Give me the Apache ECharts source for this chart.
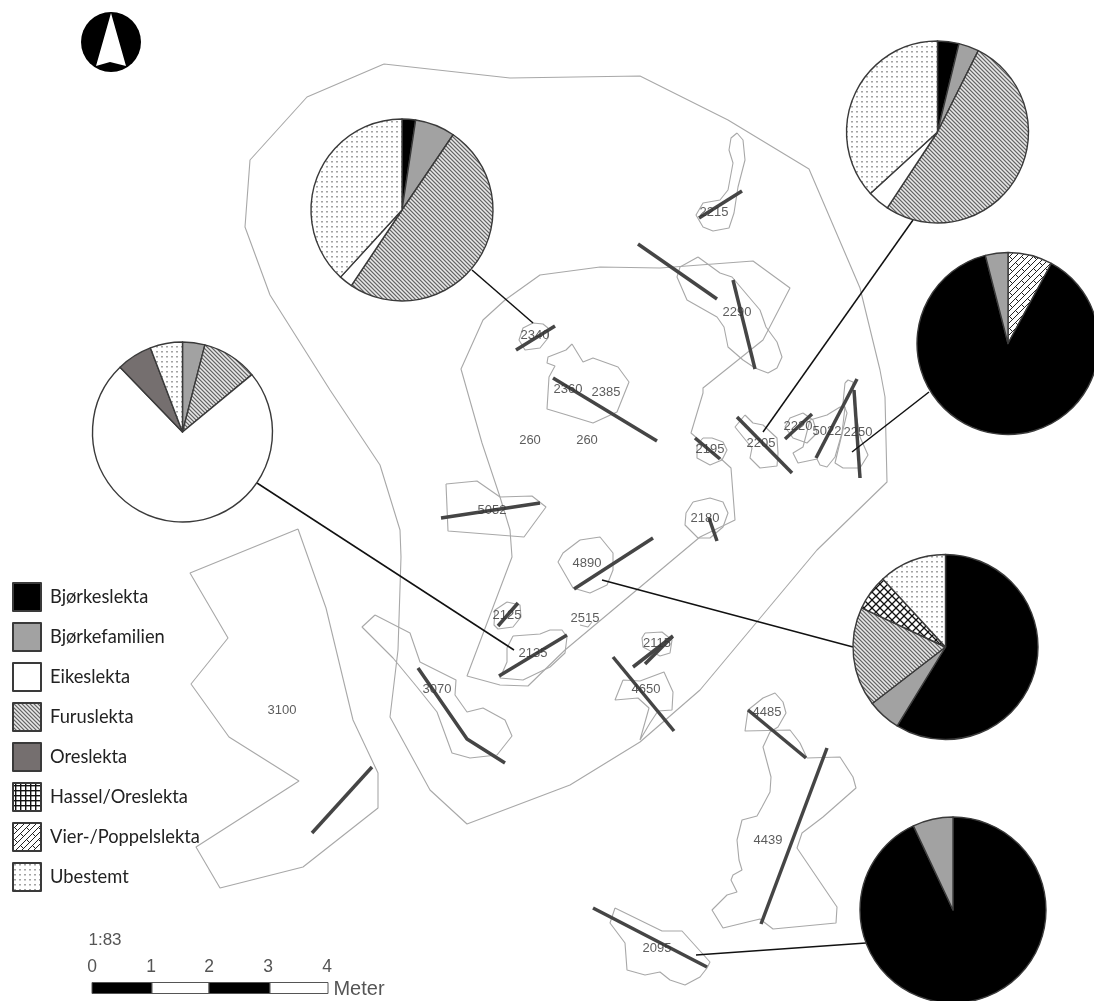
<!DOCTYPE html>
<html><head><meta charset="utf-8">
<style>html,body{margin:0;padding:0;background:#fff}#c{width:1094px;height:1001px}</style>
<script src="https://cdn.jsdelivr.net/npm/echarts@6/dist/echarts.min.js"></script>
</head><body><div id="c"></div>
<script>
const categories=['Bjørkeslekta','Bjørkefamilien','Eikeslekta','Furuslekta','Oreslekta','Hassel/Oreslekta','Vier-/Poppelslekta','Ubestemt'];
// pie slices, clockwise from 12 o'clock: [category index, percent]
const pie2340=[[0,2.4],[1,7.1],[3,49.9],[2,2.4],[7,38.2]];
const pie2205=[[0,3.8],[1,3.6],[3,51.9],[2,3.9],[7,36.8]];
const pie2250=[[6,7.9],[0,88.1],[1,4.0]];
const pie2135=[[1,4.0],[3,10.0],[2,73.8],[4,6.4],[7,5.8]];
const pie4890=[[0,58.75],[1,5.8],[3,17.4],[5,6.2],[7,11.85]];
const pie2095=[[0,93],[1,7]];
// map geometry (x, y in image units)
const outerBoundary=[[384,64],[510,78],[640,76],[728,120],[809,169],[860,288],[880,370],[885,397],[887,482],[817,550],[700,690],[640,742],[570,785],[467,824],[430,790],[390,717],[398,650],[401,557],[400,530],[380,465],[330,390],[270,295],[245,227],[250,160],[307,97],[384,64]];
const innerBoundary=[[505,300],[483,320],[461,369],[482,443],[500,497],[510,530],[512,557],[467,676],[500,685],[528,686],[565,650],[700,537],[735,520],[731,468],[720,458],[691,433],[703,393],[703,388],[763,340],[790,288],[753,261],[660,268],[600,267],[540,275],[505,300]];
const area2215=[[737,133],[731,138],[729,150],[733,163],[728,190],[720,200],[703,203],[696,215],[703,227],[713,231],[729,228],[734,213],[738,187],[745,160],[743,140],[737,133]];
const area2290=[[698,257],[680,267],[677,277],[687,300],[717,317],[724,327],[728,347],[743,360],[755,368],[768,373],[777,368],[782,357],[777,342],[766,327],[760,310],[743,290],[732,277],[720,273],[698,257]];
const area2340=[[533,323],[523,328],[519,340],[525,350],[540,348],[548,338],[548,328],[543,324],[533,323]];
const area2360=[[572,344],[566,350],[548,357],[547,363],[555,366],[549,377],[547,409],[567,415],[593,423],[617,412],[629,382],[618,367],[593,358],[583,362],[572,344]];
const area5052=[[446,484],[477,481],[500,497],[532,496],[546,507],[524,537],[448,531],[446,484]];
const area4890=[[580,540],[563,553],[558,562],[573,588],[590,593],[607,585],[613,570],[613,553],[600,537],[580,540]];
const area2125=[[507,602],[495,610],[494,625],[498,629],[513,627],[521,617],[520,605],[507,602]];
const area2135=[[513,636],[507,648],[507,662],[500,678],[523,680],[550,667],[565,653],[567,637],[562,630],[550,630],[540,634],[513,636]];
const area2515=[[580,625],[588,627],[592,622]];
const area2115=[[645,633],[642,638],[643,647],[660,656],[670,653],[672,640],[662,632],[645,633]];
const area4650=[[623,680],[615,700],[638,698],[649,708],[640,740],[650,723],[658,711],[672,710],[673,692],[664,672],[640,681],[623,680]];
const area3070=[[375,615],[362,627],[393,658],[417,687],[437,712],[452,753],[470,758],[497,755],[512,736],[505,720],[483,708],[467,712],[455,695],[456,680],[420,662],[410,633],[375,615]];
const area2195=[[703,438],[697,445],[697,458],[710,465],[722,460],[727,450],[723,442],[712,438],[703,438]];
const area2180=[[693,502],[686,513],[685,525],[698,538],[710,538],[723,527],[728,513],[723,502],[710,498],[693,502]];
const area2205=[[745,415],[735,427],[752,448],[750,458],[760,468],[777,466],[778,453],[777,438],[763,425],[753,423],[745,415]];
const area2220=[[803,413],[790,418],[785,427],[793,438],[807,443],[817,433],[813,420],[803,413]];
const area5022=[[840,407],[827,415],[810,420],[803,447],[793,453],[798,463],[817,459],[820,465],[827,467],[835,457],[842,433],[845,407],[840,407]];
const area2250=[[845,383],[843,403],[847,413],[835,463],[843,468],[860,468],[868,455],[860,437],[855,407],[853,382],[848,380],[845,383]];
const area4485=[[770,732],[778,727],[786,713],[783,702],[775,693],[763,698],[748,710],[745,731],[790,730],[800,743],[807,758]];
const area4439=[[770,732],[763,747],[771,777],[770,792],[762,807],[757,816],[742,820],[737,840],[739,860],[742,870],[733,875],[731,880],[737,892],[727,895],[712,910],[723,928],[760,919],[773,929],[836,923],[837,907],[797,848],[802,833],[823,817],[856,788],[853,777],[840,757],[807,758]];
const area2095=[[615,908],[610,923],[625,943],[627,970],[645,975],[660,972],[670,980],[685,985],[700,977],[707,968],[710,962],[682,931],[662,931],[615,908]];
const area3100=[[298,529],[190,573],[228,638],[191,684],[229,737],[299,781],[196,847],[220,888],[303,867],[378,808],[378,773],[353,720],[326,608],[298,529]];
const outlines=[outerBoundary,innerBoundary,area2215,area2290,area2340,area2360,area5052,area4890,area2125,area2135,area2515,area2115,area4650,area3070,area2195,area2180,area2205,area2220,area5022,area2250,area4485,area4439,area2095,area3100];
const transects=[
 [[742,191],[699,218]],[[638,244],[717,299]],[[733,280],[755,369]],[[555,326],[516,350]],
 [[553,378],[657,441]],[[441,518],[540,503]],[[653,538],[574,589]],[[518,603],[498,626]],
 [[567,635],[499,676]],[[673,636],[633,667]],[[672,637],[645,664]],[[613,657],[674,731]],
 [[418,668],[467,739],[505,763]],[[372,767],[312,833]],[[748,710],[806,758]],[[827,748],[761,924]],
 [[593,908],[707,967]],[[695,438],[720,459]],[[709,518],[717,541]],[[737,417],[792,473]],
 [[812,414],[785,439]],[[857,379],[816,458]],[[854,390],[860,478]]];
const leaders=[
 [[472,270],[533,323]],[[913,220],[763,432]],[[929,392],[852,452]],
 [[257,483],[514,650]],[[853,647],[602,580]],[[866,943],[696,955]]];
const areaLabels=[
 ['2215',714,212],['2290',737,312],['2340',535,335],['2360',568,389],['2385',606,392],['260',530,440],['260',587,440],
 ['5052',492,510],['2195',710,449],['2205',761,443],['2220',798,426],['5022',827,431],['2250',858,432],['2180',705,518],
 ['4890',587,563],['2125',507,615],['2515',585,618],['2135',533,653],['2115',657,643],['4650',646,689],['3070',437,689],
 ['3100',282,710],['4485',767,712],['4439',768,840],['2095',657,948]];
const scaleTicks=['0','1','2','3','4'];

function tile(n,draw){const c=document.createElement('canvas');c.width=c.height=n;const g=c.getContext('2d');g.fillStyle='#fff';g.fillRect(0,0,n,n);draw(g,n);return {image:c,repeat:'repeat'};}
const patFuru=tile(4,(g,n)=>{for(let i=0;i<n;i++)for(let j=0;j<n;j++){const d=(i-j+n)%n;g.fillStyle=d===0?'#666':d===1?'#b0b0b0':d===3?'#c0c0c0':'#e8e8e8';g.fillRect(i,j,1,1);}});
const patUbe=tile(5,(g)=>{g.fillStyle='#a4a4a4';g.fillRect(1,1,2,1);g.fillStyle='#cfcfcf';g.fillRect(1,2,2,1);});
const patHasselGrid=tile(5,(g,n)=>{g.fillStyle='#111';g.fillRect(0,2,n,1.4);g.fillRect(2,0,1.4,n);});
const patHasselDiag=tile(8,(g,n)=>{g.strokeStyle='#111';g.lineWidth=1.3;for(const o of [-8,0,8]){g.beginPath();g.moveTo(o,0);g.lineTo(o+8,8);g.moveTo(o,8);g.lineTo(o+8,0);g.stroke();}});
const patVier=tile(12,(g)=>{g.strokeStyle='#222';g.lineWidth=1;[[0,6,6,0],[0,12,12,0],[6,12,12,6],[1,4,4,7],[7,10,10,13],[7,-2,10,1]].forEach(s=>{g.beginPath();g.moveTo(s[0],s[1]);g.lineTo(s[2],s[3]);g.stroke();});});
const pieColors=['#000','#a2a2a2','#fff',patFuru,'#756f6f',patHasselDiag,patVier,patUbe];
const legendColors=['#000','#a2a2a2','#fff',patFuru,'#756f6f',patHasselGrid,patVier,patUbe];

const ink='#3a3a3a';
const series=[];
// legend keys come from this empty pie
series.push({type:'pie',silent:true,radius:0,center:[-50,-50],label:{show:false},labelLine:{show:false},
 itemStyle:{borderColor:ink,borderWidth:1},
 data:categories.map((n,i)=>({name:n,value:1,itemStyle:{color:legendColors[i]}}))});
outlines.forEach(o=>series.push({type:'line',data:o,symbol:'none',silent:true,z:2,lineStyle:{color:'#a8a8a8',width:1.1}}));
transects.forEach(o=>series.push({type:'line',data:o,symbol:'none',silent:true,z:3,lineStyle:{color:'#454545',width:3.5,cap:'butt'}}));
leaders.forEach(o=>series.push({type:'line',data:o,symbol:'none',silent:true,z:5,lineStyle:{color:'#111',width:1.5}}));
series.push({type:'scatter',symbolSize:0,silent:true,z:6,data:areaLabels.map(l=>({value:[l[1],l[2]],name:l[0]})),
 label:{show:true,position:'inside',formatter:p=>p.name,fontFamily:'Liberation Sans',fontSize:13,color:'#333'}});
function addPie(vals,cx,cy,r){
 series.push({type:'pie',silent:true,animation:false,z:8,center:[cx,cy],radius:[0,r],startAngle:90,clockwise:true,minAngle:0,
  label:{show:false},labelLine:{show:false},emphasis:{disabled:true},
  itemStyle:{borderColor:ink,borderWidth:1.4},
  data:vals.map(v=>({name:categories[v[0]],value:v[1],itemStyle:{color:pieColors[v[0]]}}))});
}
addPie(pie2340,402,210,91);
addPie(pie2205,937.5,132,91);
addPie(pie2250,1008,343.5,91);
addPie(pie2135,182.5,432,90);
addPie(pie4890,945.5,647,92.5);
addPie(pie2095,953,910,93);

const txt=(t,x,y,size,color,extra)=>({type:'text',x,y,silent:true,style:Object.assign({text:t,fontFamily:'Liberation Sans',fontSize:size,fill:color,textAlign:'center',textVerticalAlign:'middle'},extra||{})});
const segX=[92,152,209,270,328];
const gfx=[
 {type:'circle',shape:{cx:111,cy:42,r:30},style:{fill:'#000'},silent:true},
 {type:'polygon',shape:{points:[[111,13],[126,66],[110,62],[96,66]]},style:{fill:'#fff'},silent:true},
 txt('1:83',105,940,17,'#555'),
 txt('Meter',359,989,20,'#555')
];
for(let i=0;i<4;i++)gfx.push({type:'rect',shape:{x:segX[i],y:982.5,width:segX[i+1]-segX[i],height:11},style:{fill:i%2?'#fff':'#000',stroke:'#555',lineWidth:1},silent:true});
scaleTicks.forEach((t,i)=>gfx.push(txt(t,[92,151,209,268,327][i],967,17.5,'#555')));

const chart=echarts.init(document.getElementById('c'),null,{renderer:'canvas'});
chart.setOption({
 animation:false,backgroundColor:'#fff',
 grid:{left:0,right:0,top:0,bottom:0,containLabel:false},
 xAxis:{type:'value',min:0,max:1094,show:false},
 yAxis:{type:'value',min:0,max:1001,inverse:true,show:false},
 legend:{show:true,orient:'vertical',left:12,top:582,padding:0,itemWidth:28,itemHeight:28,itemGap:10,selectedMode:false,icon:'rect',
  data:categories,textStyle:{fontFamily:'Lato',fontSize:18.3,color:'#222',padding:[0,0,0,4]}},
 graphic:gfx,
 tooltip:{show:false},
 series
});
</script></body></html>
